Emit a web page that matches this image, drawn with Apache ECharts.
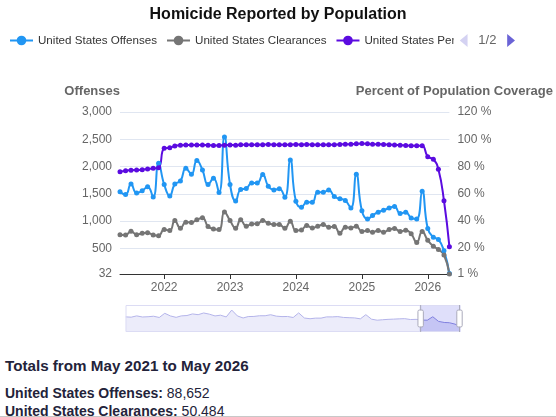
<!DOCTYPE html>
<html>
<head>
<meta charset="utf-8">
<script src="https://cdn.jsdelivr.net/npm/echarts@6/dist/echarts.min.js"></script>
<style>
html,body{margin:0;padding:0;background:#fff;font-family:"Liberation Sans",Arial,Helvetica,sans-serif;width:556px;height:417px;overflow:hidden;}
#chart{position:absolute;left:0;top:0;width:556px;height:342px;}
#totals{position:absolute;left:5px;top:356px;color:#23233a;}
#totals h2{margin:0;font-size:15.2px;line-height:20px;font-weight:bold;}
#totals p{margin:0;font-size:14px;line-height:18px;}
#totals p.first{margin-top:8px;}
#rule{position:absolute;left:0;top:416px;width:556px;height:0;border-top:1px solid #c8c8c8;}
</style>
</head>
<body>
<div id="chart"></div>
<div id="totals">
  <h2>Totals from May 2021 to May 2026</h2>
  <p class="first"><b>United States Offenses:</b> 88,652</p>
  <p><b>United States Clearances:</b> 50,484</p>
</div>
<div id="rule"></div>
<script>
const months = [
  '2021-05','2021-06','2021-07','2021-08','2021-09','2021-10','2021-11','2021-12',
  '2022-01','2022-02','2022-03','2022-04','2022-05','2022-06','2022-07','2022-08','2022-09','2022-10','2022-11','2022-12',
  '2023-01','2023-02','2023-03','2023-04','2023-05','2023-06','2023-07','2023-08','2023-09','2023-10','2023-11','2023-12',
  '2024-01','2024-02','2024-03','2024-04','2024-05','2024-06','2024-07','2024-08','2024-09','2024-10','2024-11','2024-12',
  '2025-01','2025-02','2025-03','2025-04','2025-05','2025-06','2025-07','2025-08','2025-09','2025-10','2025-11','2025-12',
  '2026-01','2026-02','2026-03','2026-04','2026-05'
];
const offenses = [
  1537,1487,1679,1518,1555,1629,1444,2061,
  1672,1463,1679,1734,1969,1858,2111,1938,1672,1784,1524,2543,
  1672,1370,1580,1598,1700,1701,1854,1641,1573,1592,1439,2122,
  1366,1256,1348,1348,1531,1531,1573,1451,1410,1380,1240,1860,
  1190,1040,1105,1165,1200,1240,1270,1140,1165,1060,1040,1550,
  865,705,665,460,40
];
const clearances = [
  753,747,815,753,778,790,747,735,
  846,827,1012,870,981,975,1025,1062,901,858,846,1167,
  1012,870,1025,907,950,951,1012,963,938,938,870,1000,
  827,840,920,877,907,938,889,901,778,889,877,907,
  809,827,796,827,796,846,865,810,835,770,610,810,
  650,540,480,380,32
];
const coverage = [
  76.2,76.9,77.2,77.4,77.6,78.1,78.6,79.1,
  93.3,93.8,95.0,95.6,95.8,95.8,95.8,95.8,95.6,95.4,95.4,95.6,
  95.8,95.6,96.0,96.0,96.0,96.0,96.0,96.2,96.0,96.0,96.0,96.0,
  96.2,96.0,96.2,96.0,96.0,96.0,96.0,96.0,96.2,96.4,96.4,96.6,
  96.8,96.6,96.4,96.4,96.2,96.0,95.8,95.6,95.4,95.3,95.3,95.3,
  87.2,85.3,77.9,54.8,21.1
];
const seriesNames = ['United States Offenses','United States Clearances','United States Percent of Population Coverage'];
const seriesColors = ['#2196F3','#757575','#5B0BE0'];
const historyStart = '1985-05-01';
const windowStart = '2021-05-01';
const windowEnd = '2026-05-01';

function pairs(vals){ return months.map((m,i)=>[m+'-01', vals[i]]); }

const chart = echarts.init(document.getElementById('chart'), null, {renderer:'canvas'});
const txt = '"Liberation Sans", Arial, sans-serif';
function mkSeries(name, vals, color, yIdx){
  return {
    name: name, type:'line', yAxisIndex: yIdx, data: pairs(vals),
    smooth: true, symbol:'circle', symbolSize:5, showAllSymbol:true,
    lineStyle:{width:2,color:color}, itemStyle:{color:color}
  };
}
chart.setOption({
  animation:false,
  color: seriesColors,
  textStyle:{fontFamily:txt},
  title:{
    text:'Homicide Reported by Population', left:'center', top:2,
    textStyle:{fontSize:16,fontWeight:'bold',color:'#111',fontFamily:txt}
  },
  legend:{
    type:'scroll', left:4, top:29, width:506,
    itemWidth:23, itemHeight:12, itemGap:9,
    textStyle:{fontSize:11.6,color:'#333',fontFamily:txt},
    pageIconColor:'#6a63d6', pageIconInactiveColor:'#d4d2f2', pageIconSize:[11,13],
    pageTextStyle:{color:'#666',fontSize:13}, pageButtonGap:6,
    data: seriesNames
  },
  grid:{left:120,right:100,top:112,bottom:68,containLabel:false},
  xAxis:{
    type:'time', min: historyStart,
    axisLine:{show:true,lineStyle:{color:'#333'}},
    axisTick:{show:true,lineStyle:{color:'#333'}},
    axisLabel:{formatter:'{yyyy}',color:'#666',fontSize:12,fontFamily:txt},
    splitLine:{show:false}
  },
  yAxis:[
    {
      type:'value', min:32, max:3000, name:'Offenses', nameGap:14,
      nameTextStyle:{fontWeight:'bold',fontSize:13,color:'#666',align:'right',fontFamily:txt},
      axisLabel:{color:'#666',fontSize:12,fontFamily:txt,formatter:v=>v.toLocaleString('en-US')},
      splitLine:{lineStyle:{color:'#E0E6F1'}}
    },
    {
      type:'value', min:1, max:120, name:'Percent of Population Coverage', nameGap:14,
      nameTextStyle:{fontWeight:'bold',fontSize:13,color:'#666',fontFamily:txt,padding:[0,0,0,10]},
      axisLabel:{color:'#666',fontSize:12,fontFamily:txt,formatter:'{value} %'},
      splitLine:{show:false}
    }
  ],
  dataZoom:[{
    type:'slider', xAxisIndex:0, startValue:windowStart, endValue:windowEnd,
    left:123, right:98, top:305, height:27,
    showDetail:false, brushSelect:false,
    borderColor:'#dcdcf4', backgroundColor:'rgba(0,0,0,0)',
    fillerColor:'rgba(110,110,230,0.22)',
    dataBackground:{lineStyle:{color:'#b4b4ea',width:1},areaStyle:{color:'#ececfa',opacity:1}},
    selectedDataBackground:{lineStyle:{color:'#8585dc',width:1},areaStyle:{color:'#c8c8f2',opacity:0.6}},
    handleStyle:{color:'#fff',borderColor:'#aab'},
    moveHandleStyle:{color:'#a9a9e6'}
  }],
  series:[
    mkSeries(seriesNames[0], offenses, seriesColors[0], 0),
    mkSeries(seriesNames[1], clearances, seriesColors[1], 0),
    mkSeries(seriesNames[2], coverage, seriesColors[2], 1)
  ]
});
</script>
</body>
</html>
